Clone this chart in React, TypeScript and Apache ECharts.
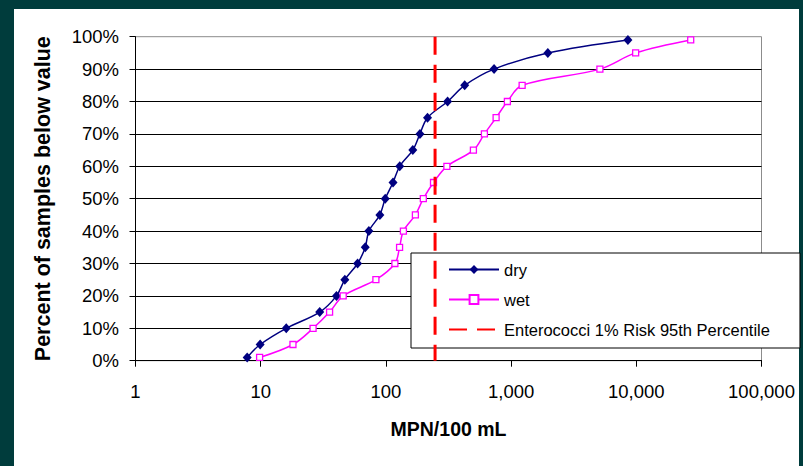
import React, { useEffect, useRef } from "react";
import * as echarts from "echarts";

const percentiles = [1, 5, 10, 15, 20, 25, 30, 35, 40, 45, 50, 55, 60, 65, 70, 75, 80, 85, 90, 95, 99];
const dryMPN = [7.8, 9.9, 16, 29.6, 40.3, 47, 59.4, 68.4, 73.1, 89.5, 98.8, 114, 129, 164, 187, 215, 311, 426, 731, 1965, 8570];
const wetMPN = [9.8, 18.1, 26.2, 35.5, 45.6, 83.2, 118, 128.6, 138, 172, 199, 240, 307, 500, 612, 759, 934, 1225, 5120, 9880, 27200];
const thresholdMPN = 247;
const thresholdRange = [100, 0];
const seriesNames = ["dry", "wet", "Enterococci 1% Risk 95th Percentile"];
const xTitle = "MPN/100 mL";
const yTitle = "Percent of samples below value";

const FONT = "'Liberation Sans', Arial, sans-serif";

export default function App() {
  const ref = useRef<HTMLDivElement>(null);
  useEffect(() => {
    if (!ref.current) return;
    const chart = echarts.init(ref.current, undefined, { renderer: "svg" });
    chart.setOption({
      animation: false,
      backgroundColor: "transparent",
      textStyle: { fontFamily: FONT },
      grid: {
        left: 135.5,
        right: 41.5,
        top: 36.7,
        bottom: 105.3,
        show: true,
        borderColor: "#8c8c8c",
        borderWidth: 1,
        backgroundColor: "transparent",
      },
      legend: {
        orient: "vertical",
        left: 411,
        top: 253,
        data: seriesNames,
        itemWidth: 50,
        itemHeight: 11,
        itemGap: 13,
        padding: [8, 30, 10, 37],
        backgroundColor: "#ffffff",
        borderColor: "#000000",
        borderWidth: 1,
        borderRadius: 0,
        textStyle: { fontSize: 16.5, color: "#000", fontFamily: FONT },
      },
      xAxis: {
        type: "log",
        logBase: 10,
        min: 1,
        max: 100000,
        splitNumber: 5,
        name: xTitle,
        nameLocation: "middle",
        nameGap: 58,
        nameTextStyle: { fontSize: 19.5, fontWeight: "bold", color: "#000", fontFamily: FONT },
        axisLine: { show: true, lineStyle: { color: "#000", width: 1 } },
        axisTick: { show: true, inside: false, length: 6, lineStyle: { color: "#000" } },
        minorTick: { show: false },
        splitLine: { show: false },
        axisLabel: {
          fontSize: 18.5,
          color: "#000",
          margin: 21,
          fontFamily: FONT,
          formatter: (v: number) => Math.round(v).toLocaleString("en-US"),
        },
      },
      yAxis: {
        type: "value",
        min: 0,
        max: 100,
        interval: 10,
        name: yTitle,
        nameLocation: "middle",
        nameRotate: 90,
        nameGap: 82,
        nameTextStyle: { fontSize: 21.5, fontWeight: "bold", color: "#000", fontFamily: FONT },
        axisLine: { show: true, lineStyle: { color: "#000", width: 1 } },
        axisTick: { show: true, inside: false, length: 6, lineStyle: { color: "#000" } },
        splitLine: { show: true, showMaxLine: false, lineStyle: { color: "#000", width: 1 } },
        axisLabel: {
          fontSize: 18.5,
          color: "#000",
          margin: 16.5,
          fontFamily: FONT,
          formatter: "{value}%",
        },
      },
      series: [
        {
          name: seriesNames[0],
          type: "line",
          data: dryMPN.map((x, i) => [x, percentiles[i]]),
          smooth: 0.35,
          symbol: "diamond",
          symbolSize: [9, 10],
          lineStyle: { color: "#000080", width: 1.5 },
          itemStyle: { color: "#000080" },
          z: 2,
        },
        {
          name: seriesNames[1],
          type: "line",
          data: wetMPN.map((x, i) => [x, percentiles[i]]),
          smooth: 0.35,
          symbol: "rect",
          symbolSize: 6,
          showAllSymbol: true,
          lineStyle: { color: "#ff00ff", width: 1.5 },
          itemStyle: { color: "#ffffff", borderColor: "#ff00ff", borderWidth: 1.3 },
          z: 3,
        },
        {
          name: seriesNames[2],
          type: "line",
          data: thresholdRange.map((y) => [thresholdMPN, y]),
          symbol: "none",
          lineStyle: { color: "#ff0000", width: 3, type: [18, 10] },
          itemStyle: { color: "rgba(0,0,0,0)", borderWidth: 0, borderColor: "rgba(0,0,0,0)" },
          z: 4,
        },
      ],
    });
    return () => chart.dispose();
  }, []);

  return (
    <div style={{ position: "fixed", left: 0, top: 0, width: 803, height: 466, background: "#003c3c" }}>
      <div style={{ position: "absolute", left: 14, top: 9, width: 785, height: 457, background: "#ffffff" }} />
      <div ref={ref} style={{ position: "absolute", left: 0, top: 0, width: 803, height: 466 }} />
    </div>
  );
}
